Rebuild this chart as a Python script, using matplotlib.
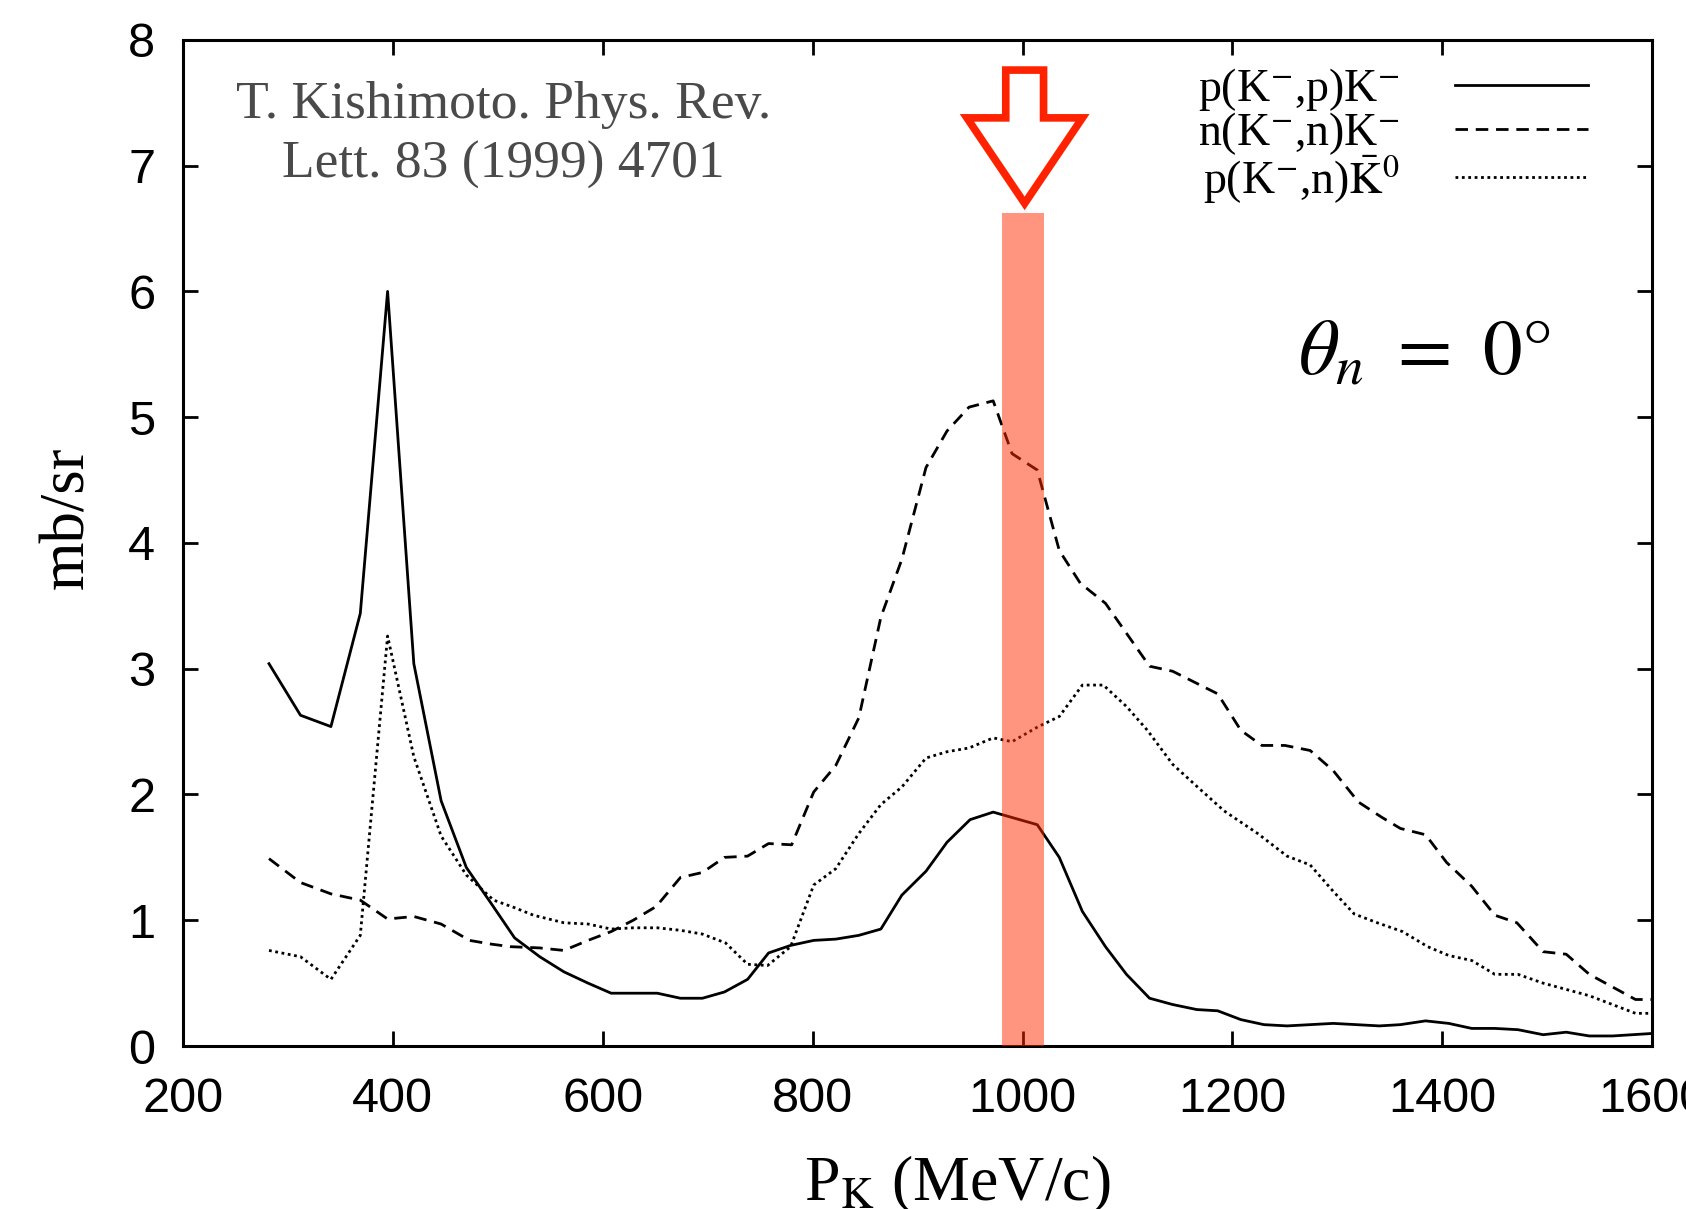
import numpy as np
import matplotlib
matplotlib.use("Agg")
import matplotlib.pyplot as plt
from matplotlib.patches import Polygon, Rectangle

plt.rcParams["mathtext.fontset"] = "stix"

# ---------------------------
# Données
# ---------------------------

# p(K-,p)K-  (trait plein)
x_pp = [282, 312, 341, 369, 395, 420, 446, 470, 494, 516, 540, 563, 586, 608, 630, 652,
        674, 695, 716, 738, 758, 779, 801, 822, 844, 865, 885, 908, 928, 950, 972, 1014,
        1035, 1057, 1079, 1099, 1121, 1143, 1166, 1186, 1208, 1230, 1252, 1274, 1296,
        1318, 1340, 1360, 1384, 1406, 1428, 1450, 1472, 1496, 1518, 1540, 1562, 1600]
y_pp = [3.04, 2.63, 2.54, 3.44, 6.00, 3.04, 1.95, 1.42, 1.13, 0.86, 0.71, 0.59, 0.50, 0.42,
        0.42, 0.42, 0.38, 0.38, 0.43, 0.53, 0.74, 0.80, 0.84, 0.85, 0.88, 0.93, 1.20, 1.39,
        1.62, 1.80, 1.86, 1.76, 1.50, 1.07, 0.79, 0.57, 0.38, 0.33, 0.29, 0.28, 0.21, 0.17,
        0.16, 0.17, 0.18, 0.17, 0.16, 0.17, 0.20, 0.18, 0.14, 0.14, 0.13, 0.09, 0.11, 0.08,
        0.08, 0.10]

# n(K-,n)K-  (tirets)
x_nn = [282, 312, 341, 369, 395, 420, 446, 473, 494, 512, 540, 563, 586, 608, 629, 651,
        674, 695, 716, 738, 758, 780, 801, 822, 844, 865, 885, 908, 928, 949, 972, 990,
        1014, 1035, 1055, 1079, 1121, 1143, 1186, 1208, 1228, 1250, 1274, 1296, 1320,
        1342, 1360, 1384, 1404, 1428, 1450, 1471, 1496, 1518, 1540, 1562, 1584, 1600]
y_nn = [1.49, 1.30, 1.21, 1.16, 1.01, 1.03, 0.97, 0.84, 0.81, 0.79, 0.78, 0.76, 0.84, 0.91,
        1.00, 1.11, 1.34, 1.38, 1.50, 1.51, 1.61, 1.60, 2.02, 2.23, 2.61, 3.41, 3.87, 4.60,
        4.89, 5.08, 5.13, 4.71, 4.58, 3.94, 3.68, 3.52, 3.02, 2.98, 2.80, 2.51, 2.39, 2.39,
        2.35, 2.19, 1.94, 1.82, 1.73, 1.68, 1.46, 1.27, 1.04, 0.98, 0.75, 0.73, 0.57, 0.47,
        0.37, 0.37]

# p(K-,n)K0bar  (pointillés)
x_pn = [282, 312, 341, 369, 395, 420, 446, 470, 496, 516, 534, 563, 586, 608, 629, 652,
        674, 695, 717, 738, 757, 779, 801, 822, 844, 865, 885, 908, 928, 949, 972, 990,
        1015, 1035, 1057, 1077, 1099, 1119, 1143, 1168, 1192, 1224, 1252, 1274, 1296,
        1316, 1338, 1362, 1386, 1406, 1428, 1450, 1472, 1496, 1518, 1540, 1562, 1584, 1600]
y_pn = [0.76, 0.71, 0.53, 0.88, 3.26, 2.30, 1.67, 1.36, 1.16, 1.10, 1.04, 0.98, 0.97, 0.93,
        0.94, 0.94, 0.92, 0.89, 0.82, 0.65, 0.64, 0.79, 1.28, 1.41, 1.69, 1.92, 2.06, 2.29,
        2.34, 2.37, 2.45, 2.42, 2.54, 2.62, 2.87, 2.87, 2.70, 2.51, 2.24, 2.05, 1.87, 1.69,
        1.51, 1.44, 1.23, 1.05, 0.98, 0.91, 0.79, 0.72, 0.68, 0.57, 0.57, 0.50, 0.45, 0.40,
        0.33, 0.26, 0.26]

labels = [r"p(K$^{-}$,p)K$^{-}$", r"n(K$^{-}$,n)K$^{-}$", r"p(K$^{-}$,n)$\bar{\mathrm{K}}^{0}$"]

# bande mise en évidence autour de 1000 MeV/c
band_center = 1000
band_half = 20
band_top = 6.62

#---------------------------
# Figure
#---------------------------

fig = plt.figure(figsize=(16.86, 12.09), dpi=100)
ax = fig.add_axes([0.1085, 0.1348, 0.8715, 0.8322])

ax.plot(x_pp, y_pp, color="black", lw=2.0, ls="-", label=labels[0], zorder=2)
ax.plot(x_nn, y_nn, color="black", lw=2.0, ls=(0, (4.5, 2.8)), label=labels[1], zorder=2)
ax.plot(x_pn, y_pn, color="black", lw=2.0, ls=(0, (1, 1.3)), label=labels[2], zorder=2)

ax.add_patch(Rectangle((band_center - band_half, 0), 2 * band_half, band_top,
                       facecolor="#ff2a00", alpha=0.5, edgecolor="none", zorder=3))

# flèche creuse au-dessus de la bande
c = band_center + 2
arrow = [(c - 18, 7.76), (c + 18, 7.76), (c + 18, 7.38), (c + 55, 7.38),
         (c, 6.70), (c - 55, 7.38), (c - 18, 7.38)]
ax.add_patch(Polygon(arrow, closed=True, facecolor="white", edgecolor="#ff2200",
                     lw=5.5, joinstyle="miter", zorder=4, clip_on=False))

ax.set_xlim(200, 1600)
ax.set_ylim(0, 8)
ax.set_xticks(np.arange(200, 1601, 200))
ax.set_yticks(np.arange(0, 9, 1))

for s in ax.spines.values():
    s.set_linewidth(2.2)
ax.tick_params(direction="in", length=11, width=2, top=True, right=True,
               labelsize=35)
ax.tick_params(axis="x", pad=22)
ax.tick_params(axis="y", pad=20)
for lab in ax.get_xticklabels() + ax.get_yticklabels():
    lab.set_fontfamily("Liberation Sans")

ax.set_ylabel("mb/sr", family="Liberation Serif", fontsize=45, labelpad=22, y=0.525)
ax.set_xlabel(r"P$_{\mathrm{K}}$ (MeV/c)", family="Liberation Serif", fontsize=46,
              labelpad=23, x=0.527)

ax.text(0.218, 0.9055, "T. Kishimoto. Phys. Rev.\nLett. 83 (1999) 4701",
        transform=ax.transAxes, ha="center", va="center", family="Liberation Serif",
        fontsize=38.5, color="#4a4a4a", linespacing=1.3)

ax.text(0.845, 0.69, r"$\theta_n\ =\ 0°$", transform=ax.transAxes, ha="center",
        va="center", fontsize=57)

leg = ax.legend(loc="upper right", bbox_to_anchor=(0.978, 1.006), frameon=False,
                markerfirst=False, handlelength=2.9, handletextpad=1.2,
                labelspacing=-0.07, borderaxespad=0.3,
                prop={"family": "Liberation Serif", "size": 33})

fig.savefig("out.png", dpi=100)
